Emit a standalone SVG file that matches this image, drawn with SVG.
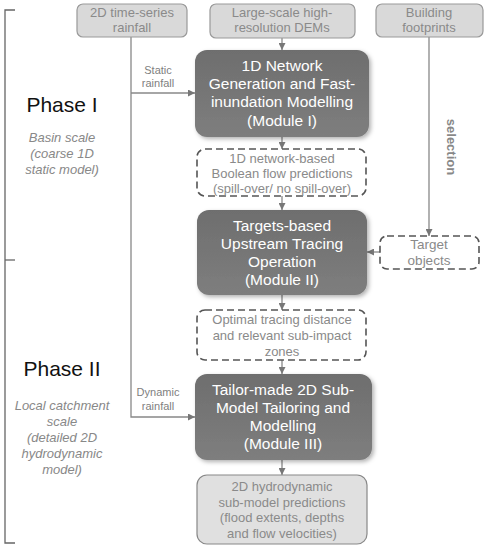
<svg xmlns="http://www.w3.org/2000/svg" width="488" height="550" viewBox="0 0 488 550">
<style>
text{font-family:"Liberation Sans",Arial,sans-serif;text-anchor:middle}
.in{fill:#d9d9d9;stroke:#999;stroke-width:1.2}
.in-t{fill:#8a8a8a;font-size:13px}
.mod{fill:url(#g)}
.mod-t{fill:#fff;font-size:15.5px}
.dash{fill:#fff;stroke:#555;stroke-width:1.6;stroke-dasharray:7,4}
.dash-t{fill:#8a8a8a;font-size:13px}
.out{fill:#e0e0e0;stroke:#888;stroke-width:1.2}
.ln{stroke:#888;stroke-width:1.3;fill:none}
.lbl{fill:#808080;font-size:11px}
.ph{fill:#111;font-size:21px}
.sub{fill:#888;font-size:13px;font-style:italic}
.br{stroke:#666;stroke-width:1.3;fill:none}
</style>
<defs>
<linearGradient id="g" x1="0" y1="0" x2="0" y2="1">
<stop offset="0" stop-color="#6e6e6e"/>
<stop offset="1" stop-color="#7e7e7e"/>
</linearGradient>
<filter id="sh" x="-10%" y="-10%" width="125%" height="130%">
<feDropShadow dx="2" dy="2" stdDeviation="2" flood-color="#000" flood-opacity="0.3"/>
</filter>
<marker id="ar" viewBox="0 0 10 10" refX="10" refY="5" markerWidth="7" markerHeight="7" orient="auto" markerUnits="userSpaceOnUse">
<path d="M0,0 L10,5 L0,10 z" fill="#777"/>
</marker>
</defs>

<g id="bracket">
<path class="br" d="M15,10 H5 V543 H15"/>
<path class="br" d="M5,260 H15"/>
</g>

<g id="phase1">
<text class="ph" x="62" y="112">Phase I</text>
<text class="sub" x="62" y="142">Basin scale</text>
<text class="sub" x="62" y="158">(coarse 1D</text>
<text class="sub" x="62" y="174">static model)</text>
</g>
<g id="phase2">
<text class="ph" x="62" y="376">Phase II</text>
<text class="sub" x="62" y="410">Local catchment</text>
<text class="sub" x="62" y="426">scale</text>
<text class="sub" x="62" y="442">(detailed 2D</text>
<text class="sub" x="62" y="458">hydrodynamic</text>
<text class="sub" x="62" y="474">model)</text>
</g>

<g id="connectors">
<path class="ln" d="M131,37 V417 H195" marker-end="url(#ar)"/>
<path class="ln" d="M131,93 H195" marker-end="url(#ar)"/>
<path class="ln" d="M282,38 V50" marker-end="url(#ar)"/>
<path class="ln" d="M282,137 V149" marker-end="url(#ar)"/>
<path class="ln" d="M282,196 V210" marker-end="url(#ar)"/>
<path class="ln" d="M282,295 V310" marker-end="url(#ar)"/>
<path class="ln" d="M282,360 V374" marker-end="url(#ar)"/>
<path class="ln" d="M282,460 V475" marker-end="url(#ar)"/>
<path class="ln" d="M429,37 V236" marker-end="url(#ar)"/>
<path class="ln" d="M380,252 H367" marker-end="url(#ar)"/>
<text class="lbl" x="158" y="74">Static</text>
<text class="lbl" x="158" y="87">rainfall</text>
<text class="lbl" x="158" y="396">Dynamic</text>
<text class="lbl" x="158" y="410">rainfall</text>
<text x="447" y="147" transform="rotate(90 447 147)" style="fill:#888;font-size:13px;font-weight:bold">selection</text>
</g>

<g id="rainfall">
<rect class="in" x="77" y="4" width="110" height="33" rx="6"/>
<text class="in-t" x="132" y="17">2D time-series</text>
<text class="in-t" x="132" y="32">rainfall</text>
</g>
<g id="dems">
<rect class="in" x="210" y="4" width="145" height="34" rx="6"/>
<text class="in-t" x="282" y="17">Large-scale high-</text>
<text class="in-t" x="282" y="32">resolution DEMs</text>
</g>
<g id="buildings">
<rect class="in" x="376" y="4" width="107" height="33" rx="6"/>
<text class="in-t" x="429" y="17">Building</text>
<text class="in-t" x="429" y="32">footprints</text>
</g>

<g id="module1">
<rect class="mod" filter="url(#sh)" x="195" y="50" width="174" height="87" rx="12"/>
<text class="mod-t" x="282" y="71">1D Network</text>
<text class="mod-t" x="282" y="89">Generation and Fast-</text>
<text class="mod-t" x="282" y="107">inundation Modelling</text>
<text class="mod-t" x="282" y="126">(Module I)</text>
</g>
<g id="boolean">
<rect class="dash" x="197" y="149" width="169" height="47" rx="8"/>
<text class="dash-t" x="282" y="163">1D network-based</text>
<text class="dash-t" x="282" y="178">Boolean flow predictions</text>
<text class="dash-t" x="282" y="193">(spill-over/ no spill-over)</text>
</g>
<g id="module2">
<rect class="mod" filter="url(#sh)" x="197" y="210" width="170" height="85" rx="12"/>
<text class="mod-t" x="282" y="231">Targets-based</text>
<text class="mod-t" x="282" y="249">Upstream Tracing</text>
<text class="mod-t" x="282" y="267">Operation</text>
<text class="mod-t" x="282" y="285">(Module II)</text>
</g>
<g id="targets">
<rect class="dash" x="380" y="236" width="99" height="33" rx="7"/>
<text class="dash-t" x="429" y="249" style="font-size:13.5px">Target</text>
<text class="dash-t" x="429" y="265" style="font-size:13.5px">objects</text>
</g>
<g id="tracing">
<rect class="dash" x="197" y="310" width="169" height="50" rx="8"/>
<text class="dash-t" x="282" y="324">Optimal tracing distance</text>
<text class="dash-t" x="282" y="340">and relevant sub-impact</text>
<text class="dash-t" x="282" y="356">zones</text>
</g>
<g id="module3">
<rect class="mod" filter="url(#sh)" x="195" y="374" width="177" height="86" rx="12"/>
<text class="mod-t" x="283" y="395">Tailor-made 2D Sub-</text>
<text class="mod-t" x="283" y="413">Model Tailoring and</text>
<text class="mod-t" x="283" y="431">Modelling</text>
<text class="mod-t" x="283" y="449">(Module III)</text>
</g>
<g id="output">
<rect class="out" x="197" y="475" width="170" height="69" rx="10"/>
<text class="dash-t" x="282" y="491">2D hydrodynamic</text>
<text class="dash-t" x="282" y="507">sub-model predictions</text>
<text class="dash-t" x="282" y="522">(flood extents, depths</text>
<text class="dash-t" x="282" y="538">and flow velocities)</text>
</g>
</svg>
